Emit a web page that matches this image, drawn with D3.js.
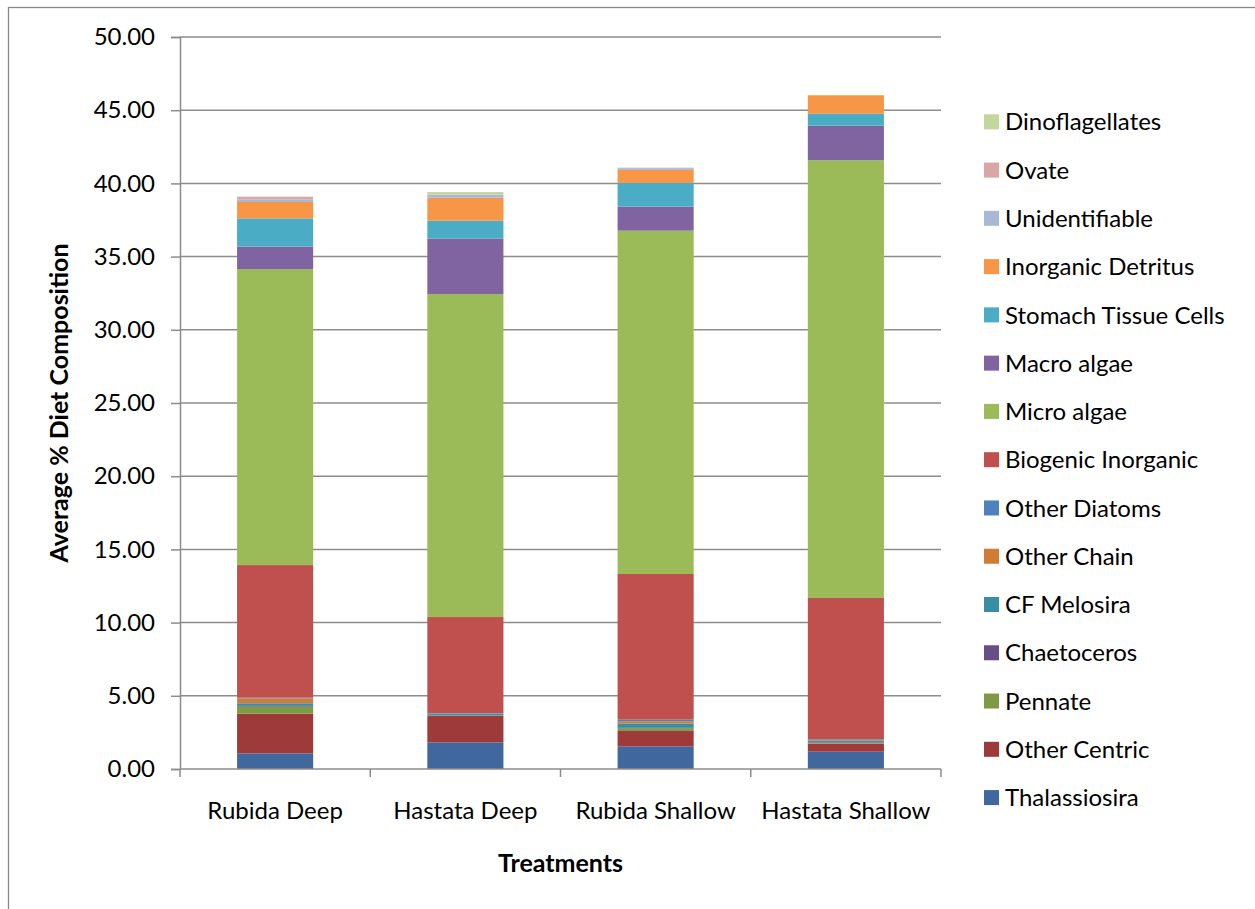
<!DOCTYPE html>
<html>
<head>
<meta charset="utf-8">
<script src="https://cdn.jsdelivr.net/npm/d3@7"></script>
<style>
  body { margin: 0; background: #fff; }
  text { font-family: Lato, "Open Sans", sans-serif; fill: #000; }
</style>
</head>
<body>
<div id="chart"></div>
<script>
// categories along x
var treatments = ["Rubida Deep", "Hastata Deep", "Rubida Shallow", "Hastata Shallow"];

// stack order, bottom to top
var seriesNames = ["Thalassiosira", "Other Centric", "Pennate", "Chaetoceros", "CF Melosira",
  "Other Chain", "Other Diatoms", "Biogenic Inorganic", "Micro algae", "Macro algae",
  "Stomach Tissue Cells", "Inorganic Detritus", "Unidentifiable", "Ovate", "Dinoflagellates"];

var thalassiosira     = [1.07, 1.82, 1.55, 1.18];
var otherCentric      = [2.71, 1.80, 1.05, 0.55];
var pennate           = [0.48, 0.02, 0.18, 0.06];
var chaetoceros       = [0.05, 0.02, 0.03, 0.04];
var cfMelosira        = [0.18, 0.10, 0.30, 0.08];
var otherChain        = [0.33, 0.02, 0.15, 0.05];
var otherDiatoms      = [0.05, 0.04, 0.11, 0.07];
var biogenicInorganic = [9.06, 6.56, 9.95, 9.65];
var microAlgae        = [20.22, 22.06, 23.45, 29.90];
var macroAlgae        = [1.53, 3.78, 1.64, 2.36];
var stomachTissue     = [1.93, 1.23, 1.62, 0.82];
var inorganicDetritus = [1.12, 1.57, 0.89, 1.26];
var unidentifiable    = [0.16, 0.21, 0.12, 0.00];
var ovate             = [0.18, 0.02, 0.02, 0.00];
var dinoflagellates   = [0.03, 0.16, 0.02, 0.00];

var yTicks = [0, 5, 10, 15, 20, 25, 30, 35, 40, 45, 50];

var colors = ["#41689e", "#9e3b3a", "#7f9a43", "#654f86", "#3a8ea4", "#d17c34", "#4f81bd",
  "#c0504d", "#9bbb59", "#8064a2", "#4bacc6", "#f79646", "#a9b8d8", "#d9a5a5", "#c3d69b"];

var allValues = [thalassiosira, otherCentric, pennate, chaetoceros, cfMelosira, otherChain,
  otherDiatoms, biogenicInorganic, microAlgae, macroAlgae, stomachTissue, inorganicDetritus,
  unidentifiable, ovate, dinoflagellates];

var data = treatments.map(function(t, i) {
  var row = {treatment: t};
  seriesNames.forEach(function(s, j) { row[s] = allValues[j][i]; });
  return row;
});

var W = 1255, H = 909;
var margin = {top: 37, left: 180, right: 314, bottom: 140};
var width = W - margin.left - margin.right,
    height = H - margin.top - margin.bottom;

var svg = d3.select("#chart").append("svg")
    .attr("width", W)
    .attr("height", H);

// outer chart border
svg.append("rect")
    .attr("x", 8.5).attr("y", 7.5)
    .attr("width", 1300).attr("height", 1000)
    .style("fill", "none").style("stroke", "#888").style("stroke-width", 1.3);

var g = svg.append("g")
    .attr("transform", "translate(" + margin.left + "," + margin.top + ")");

var x = d3.scaleBand()
    .domain(treatments)
    .range([0, width])
    .paddingInner(0.6)
    .paddingOuter(0.3);

var xb = d3.scaleBand().domain(treatments).range([0, width]);

var y = d3.scaleLinear()
    .domain([0, 50])
    .range([height, 0]);

// gridlines
g.selectAll(".grid")
    .data(yTicks.slice(1))
  .enter().append("line")
    .attr("class", "grid")
    .attr("x1", 0).attr("x2", width)
    .attr("y1", function(d) { return y(d); })
    .attr("y2", function(d) { return y(d); })
    .style("stroke", "#8c8c8c").style("stroke-width", 1.5);

var stack = d3.stack().keys(seriesNames);
var layers = stack(data);

g.selectAll(".layer")
    .data(layers)
  .enter().append("g")
    .attr("class", "layer")
    .style("fill", function(d, i) { return colors[i]; })
  .selectAll("rect")
    .data(function(d) { return d; })
  .enter().append("rect")
    .attr("x", function(d) { return x(d.data.treatment); })
    .attr("width", x.bandwidth())
    .attr("y", function(d) { return y(d[1]); })
    .attr("height", function(d) { return y(d[0]) - y(d[1]); });

// y axis
var yAxis = g.append("g")
    .call(d3.axisLeft(y).tickValues(yTicks).tickSize(9).tickPadding(16)
      .tickFormat(d3.format(".2f")));
yAxis.selectAll("path, line").style("stroke", "#8c8c8c").style("stroke-width", 1.5);
yAxis.selectAll("text").style("font-size", "24px").style("font-family", "Lato, sans-serif").style("fill", "#000");

// x axis, ticks at category boundaries
var xAxis = g.append("g")
    .attr("transform", "translate(0," + height + ")");
xAxis.append("line")
    .attr("x1", 0).attr("x2", width)
    .style("stroke", "#8c8c8c").style("stroke-width", 1.5);
xAxis.selectAll(".xt")
    .data(treatments.concat(["end"]))
  .enter().append("line")
    .attr("x1", function(d, i) { return i * xb.bandwidth(); })
    .attr("x2", function(d, i) { return i * xb.bandwidth(); })
    .attr("y1", 0).attr("y2", 8)
    .style("stroke", "#8c8c8c").style("stroke-width", 1.5);
xAxis.selectAll(".xl")
    .data(treatments)
  .enter().append("text")
    .attr("x", function(d) { return x(d) + x.bandwidth() / 2; })
    .attr("y", 50)
    .style("text-anchor", "middle")
    .style("font-size", "24px")
    .text(function(d) { return d; });

// axis titles
svg.append("text")
    .attr("transform", "translate(68," + (margin.top + height / 2) + ") rotate(-90)")
    .style("text-anchor", "middle")
    .style("font-size", "25px")
    .style("font-weight", "bold")
    .text("Average % Diet Composition");

svg.append("text")
    .attr("x", margin.left + width / 2)
    .attr("y", 872)
    .style("text-anchor", "middle")
    .style("font-size", "25px")
    .style("font-weight", "bold")
    .text("Treatments");

// legend, top to bottom reversed
var legendItems = seriesNames.slice().reverse();
var legend = svg.selectAll(".legend")
    .data(legendItems)
  .enter().append("g")
    .attr("class", "legend")
    .attr("transform", function(d, i) { return "translate(984," + (121.8 + i * 48.27) + ")"; });

legend.append("rect")
    .attr("x", 0).attr("y", -7.5)
    .attr("width", 15).attr("height", 15)
    .style("fill", function(d) { return colors[seriesNames.indexOf(d)]; });

legend.append("text")
    .attr("x", 21)
    .attr("dy", "0.36em")
    .style("font-size", "24px")
    .text(function(d) { return d; });
</script>
</body>
</html>
